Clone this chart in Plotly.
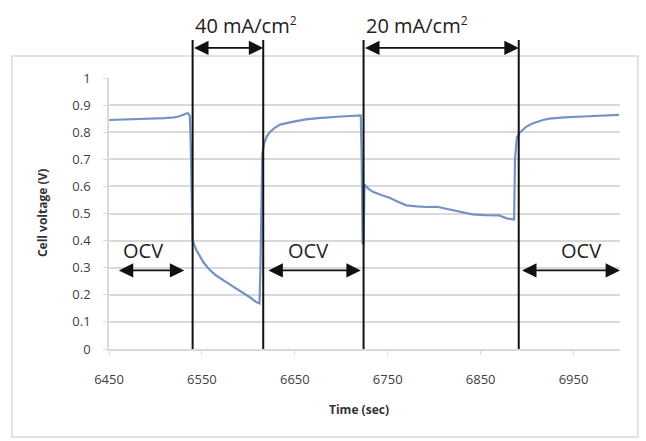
import plotly.graph_objects as go

# Cell voltage trace (time in s, voltage in V)
time_s = [6450, 6470, 6490, 6510, 6520, 6525, 6530, 6532, 6535, 6537, 6538, 6539, 6540,
          6544, 6548, 6552, 6559, 6565, 6577, 6585, 6594, 6602, 6609, 6612,
          6613, 6614, 6615, 6617, 6620, 6623, 6628, 6634, 6642, 6650, 6662, 6675,
          6700, 6720, 6721, 6722, 6723, 6724, 6725,
          6729, 6734, 6743, 6752, 6761, 6770, 6781, 6792, 6803, 6813, 6824, 6841,
          6855, 6870, 6878, 6884, 6886,
          6887, 6889, 6892, 6895, 6899, 6905, 6910, 6917, 6924, 6940, 6960, 6980, 6999]
voltage_v = [0.845, 0.847, 0.849, 0.852, 0.855, 0.858, 0.864, 0.868, 0.870, 0.860, 0.750, 0.550, 0.400,
             0.365, 0.340, 0.318, 0.290, 0.272, 0.245, 0.228, 0.210, 0.190, 0.172, 0.168,
             0.300, 0.600, 0.720, 0.760, 0.785, 0.800, 0.815, 0.828, 0.835, 0.840, 0.847, 0.852,
             0.858, 0.862, 0.862, 0.700, 0.390, 0.390, 0.607,
             0.592, 0.580, 0.568, 0.558, 0.543, 0.530, 0.526, 0.524, 0.525, 0.517, 0.508, 0.497,
             0.494, 0.493, 0.482, 0.478, 0.478,
             0.700, 0.780, 0.798, 0.809, 0.820, 0.831, 0.838, 0.845, 0.850, 0.855, 0.858, 0.861, 0.864]

# Load switching instants (s)
step_times = [6540, 6616, 6724, 6891]
# Current density periods: (start, end, label)
load_periods = [(6540, 6616, "40 mA/cm<sup><span style='font-size:12px'>2</span></sup>"),
                (6724, 6891, "20 mA/cm<sup><span style='font-size:12px'>2</span></sup>")]
# Open-circuit periods: (start, end, label centre)
ocv_periods = [(6459, 6531, 6487), (6620, 6721, 6664), (6893, 7000, 6958)]

x_ticks = [6450, 6550, 6650, 6750, 6850, 6950]
y_ticks = [0, 0.1, 0.2, 0.3, 0.4, 0.5, 0.6, 0.7, 0.8, 0.9, 1]
y_tick_text = ["0", "0.1", "0.2", "0.3", "0.4", "0.5", "0.6", "0.7", "0.8", "0.9", "1"]

fig = go.Figure()
fig.add_trace(go.Scatter(x=time_s, y=voltage_v, mode="lines",
                         line=dict(color="#7393c3", width=2.2),
                         hoverinfo="x+y", showlegend=False))

grid = "#d9d9d9"
tick_font = dict(family="Open Sans, sans-serif", size=13, color="#404040")

fig.update_layout(
    width=646, height=441,
    margin=dict(l=109, r=26, t=78, b=92),
    paper_bgcolor="white", plot_bgcolor="white",
    xaxis=dict(range=[6450, 7000], tickvals=x_ticks, showgrid=False,
               showline=True, linecolor=grid, linewidth=1.5,
               ticks="outside", ticklen=4, tickcolor=grid,
               tickfont=tick_font, ticklabelstandoff=14, zeroline=False),
    yaxis=dict(range=[0, 1], tickvals=y_ticks, ticktext=y_tick_text,
               showgrid=True, gridcolor=grid, gridwidth=1.5,
               showline=True, linecolor=grid, linewidth=1.5,
               ticks="outside", ticklen=4, tickcolor=grid,
               tickfont=tick_font, ticklabelstandoff=10, zeroline=False),
)

shapes = []
# Outer chart frame
shapes.append(dict(type="rect", xref="paper", yref="paper",
                   x0=-0.19, x1=1.035, y0=-0.325, y1=1.081,
                   line=dict(color="#d9d9d9", width=1.5), layer="below"))
# Vertical markers at each load switch
for t in step_times:
    shapes.append(dict(type="line", xref="x", yref="paper", x0=t, x1=t,
                       y0=0, y1=1.14, line=dict(color="#111111", width=2)))
fig.update_layout(shapes=shapes)

arrow_style = dict(showarrow=True, text="", arrowside="end+start",
                   arrowhead=2, startarrowhead=2, arrowsize=1.6, startarrowsize=1.6,
                   arrowwidth=1.8, arrowcolor="#111111", standoff=0, startstandoff=0)
label_font = dict(family="Open Sans, sans-serif", size=20, color="#222222")

annotations = []
for t0, t1, label in load_periods:
    annotations.append(dict(xref="x", yref="paper", x=t1, y=1.111,
                            axref="x", ayref="pixel", ax=t0, ay=0, **arrow_style))
    annotations.append(dict(xref="x", yref="paper", x=t0, y=1.192, text=label,
                            showarrow=False, xanchor="left", yanchor="middle",
                            font=label_font))
for t0, t1, tc in ocv_periods:
    annotations.append(dict(xref="x", yref="y", x=t1, y=0.29,
                            axref="x", ayref="y", ax=t0, ay=0.29, **arrow_style))
    annotations.append(dict(xref="x", yref="y", x=tc, y=0.365, text="OCV",
                            showarrow=False, xanchor="center", yanchor="middle",
                            font=label_font))

title_font = dict(family="Open Sans, sans-serif", size=12, color="#333333")
annotations.append(dict(xref="paper", yref="paper", x=0.49, y=-0.225,
                        text="<b>Time (sec)</b>", showarrow=False,
                        xanchor="center", yanchor="middle", font=title_font))
annotations.append(dict(xref="paper", yref="paper", x=-0.13, y=0.5,
                        text="<b>Cell voltage (V)</b>", showarrow=False, textangle=-90,
                        xanchor="center", yanchor="middle", font=title_font))
fig.update_layout(annotations=annotations)

fig.write_html("out.html")
